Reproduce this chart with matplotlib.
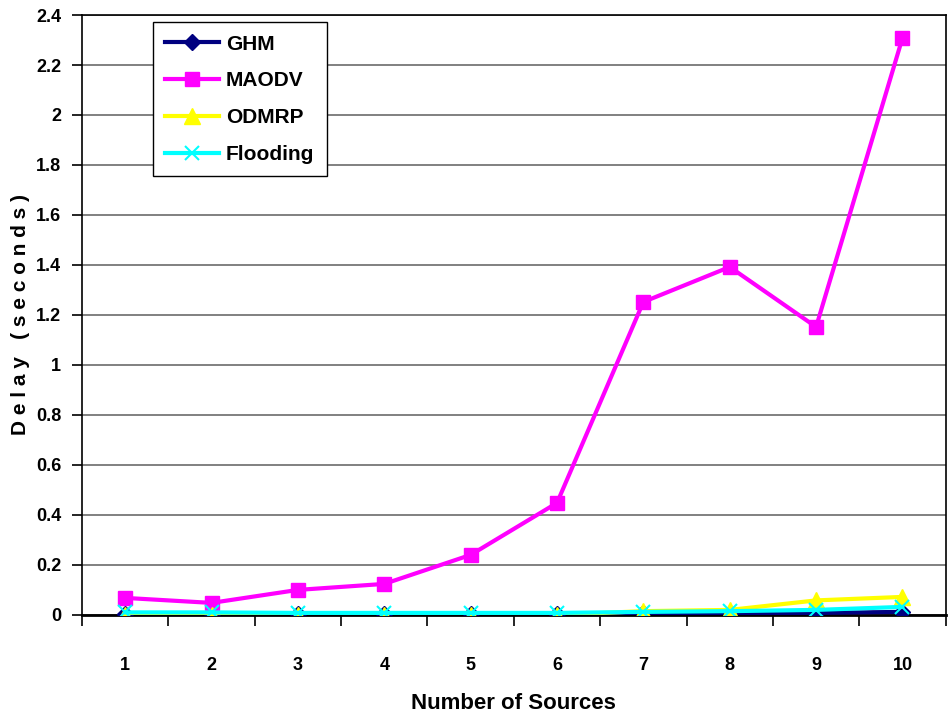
import matplotlib.pyplot as plt
from matplotlib.ticker import MultipleLocator, FixedLocator

sources = [1, 2, 3, 4, 5, 6, 7, 8, 9, 10]
ghm = [0.005, 0.005, 0.005, 0.005, 0.005, 0.005, 0.006, 0.006, 0.008, 0.012]
maodv = [0.068, 0.048, 0.10, 0.124, 0.24, 0.448, 1.252, 1.392, 1.152, 2.308]
odmrp = [0.0, 0.0, 0.0, 0.0, 0.0, 0.0, 0.015, 0.02, 0.058, 0.072]
flooding = [0.01, 0.01, 0.008, 0.008, 0.008, 0.008, 0.012, 0.015, 0.02, 0.032]

plt.rcParams['font.family'] = ['Liberation Sans Narrow', 'Liberation Sans', 'DejaVu Sans']
plt.rcParams['font.weight'] = 'bold'

fig = plt.figure(figsize=(9.48, 7.15), dpi=100)
ax = fig.add_axes([0.0865, 0.14, 0.911, 0.839])

ax.plot(sources, ghm, color='#000080', lw=3, marker='D', ms=8, label='GHM', zorder=3)
ax.plot(sources, maodv, color='#FF00FF', lw=3, marker='s', ms=10, label='MAODV', zorder=3)
ax.plot(sources, odmrp, color='#FFFF00', lw=3, marker='^', ms=11, label='ODMRP', zorder=3)
ax.plot(sources, flooding, color='#00FFFF', lw=3, marker='x', ms=10, mew=1.5,
        label='Flooding', zorder=3)

ax.set_xlim(0.5, 10.5)
ax.set_ylim(0, 2.4)
ax.yaxis.set_major_locator(MultipleLocator(0.2))
ax.set_yticklabels([f'{v:g}' for v in ax.get_yticks()])
ax.xaxis.set_major_locator(FixedLocator(sources))
ax.xaxis.set_minor_locator(FixedLocator([s + 0.5 for s in [0] + sources]))
ax.tick_params(axis='x', which='major', length=0, pad=30, labelsize=13)
ax.tick_params(axis='x', which='minor', length=8, width=1.2, direction='out')
ax.tick_params(axis='y', length=7, width=1.2, direction='out', labelsize=13, pad=8)

ax.grid(axis='y', color='#808080', lw=1.4, zorder=1)
for s in ax.spines.values():
    s.set_color('black')
    s.set_linewidth(1.2)
ax.spines['bottom'].set_linewidth(2)

ax.set_xlabel('Number of Sources', fontsize=16, fontweight='bold', labelpad=14)
ax.set_ylabel('D e l a y   ( s e c o n d s )', fontsize=15, fontweight='bold', labelpad=4)

leg = ax.legend(loc='upper left', bbox_to_anchor=(0.082, 0.988), borderaxespad=0,
                fontsize=15, frameon=True, fancybox=False, edgecolor='black',
                framealpha=1, handlelength=2.6, handletextpad=0.3, borderpad=0.6,
                labelspacing=0.85)
leg.get_frame().set_linewidth(1.0)

fig.savefig('out.png', dpi=100)
